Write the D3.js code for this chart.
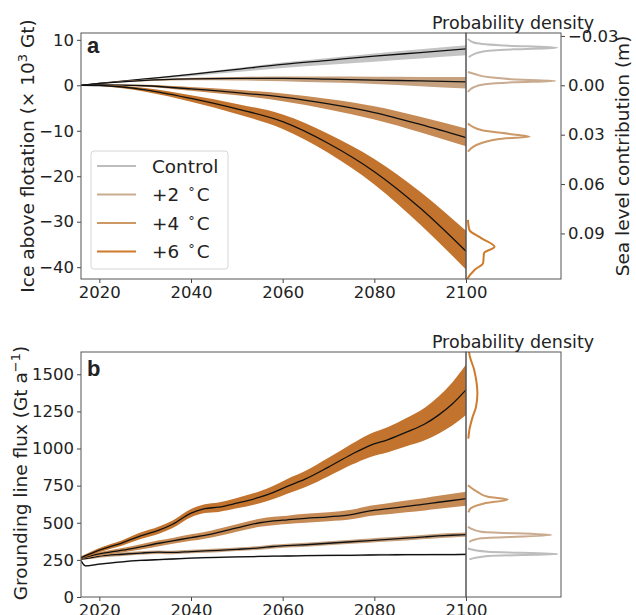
<!DOCTYPE html>
<html>
<head>
<meta charset="utf-8">
<script src="https://cdn.jsdelivr.net/npm/d3@7"></script>
<style>
body { margin: 0; background: #fff; }
text { font-family: "DejaVu Sans", sans-serif; fill: #222; }
</style>
</head>
<body>
<svg width="636" height="615"></svg>
<script>
// scenarios
var names = ['Control', '+2', '+4', '+6'];
var lineColors = ['#bdbdbd', '#c9ab90', '#cc9866', '#cf7a2c'];
var bandColors = ['#c4c4c4', '#c6a17f', '#c68a55', '#c2742e'];

// panel a : ice above flotation (10^3 Gt)
var yearsA = [2016, 2020, 2030, 2040, 2050, 2060, 2070, 2080, 2090, 2100];
var iceMed = [
  [0, 0.4, 1.4, 2.4, 3.5, 4.6, 5.5, 6.4, 7.2, 8.0],
  [0, 0.4, 1.1, 1.4, 1.5, 1.5, 1.35, 1.15, 0.95, 0.75],
  [0, 0.1, -0.1, -0.8, -1.6, -2.6, -4.1, -6.0, -8.6, -11.5],
  [0, -0.05, -1.0, -2.9, -5.2, -8.0, -12.8, -19.0, -27.0, -36.5]
];
var iceLow = [
  [0, 0.35, 1.2, 2.0, 2.9, 3.8, 4.5, 5.2, 5.9, 6.6],
  [0, 0.35, 0.9, 1.1, 1.05, 0.9, 0.6, 0.3, -0.2, -0.7],
  [0, 0.05, -0.3, -1.2, -2.2, -3.5, -5.3, -7.5, -10.3, -13.4],
  [0, -0.15, -1.4, -3.6, -6.3, -9.6, -14.9, -21.8, -30.6, -40.5]
];
var iceHigh = [
  [0, 0.45, 1.5, 2.6, 3.8, 5.0, 6.0, 7.0, 7.9, 8.8],
  [0, 0.45, 1.25, 1.65, 1.85, 1.95, 1.95, 1.9, 1.85, 1.8],
  [0, 0.15, 0.1, -0.4, -1.0, -1.8, -3.0, -4.6, -6.9, -9.5],
  [0, 0.05, -0.6, -2.2, -4.1, -6.4, -10.7, -16.2, -23.4, -32.0]
];
// density of ice in 2100: [value, relative density]
var iceDens = [
  [[10.24, 0.02], [9.4, 0.08], [8.8, 0.35], [8.27, 0.96], [7.9, 0.5], [7.45, 0.18], [6.8, 0.08], [6.2, 0.03]],
  [[2.92, 0.02], [2.41, 0.1], [1.75, 0.25], [1.2, 0.6], [0.94, 0.94], [0.66, 0.5], [0.22, 0.2], [-0.44, 0.08], [-1.47, 0.02]],
  [[-8.4, 0.02], [-9.87, 0.17], [-10.8, 0.5], [-11.34, 0.67], [-11.7, 0.4], [-12.8, 0.15], [-14.6, 0.02]],
  [[-29.6, 0.02], [-31.8, 0.035], [-33.6, 0.16], [-35.5, 0.3], [-36.9, 0.19], [-39.1, 0.18], [-40.6, 0.09], [-42.4, 0.02], [-43.5, 0.0]]
];

// panel b : grounding line flux (Gt/a)
var yearsB = [2016, 2017, 2020, 2025, 2029, 2033, 2036, 2040, 2043, 2046, 2050, 2055,
              2058, 2061, 2065, 2070, 2075, 2079, 2083, 2087, 2091, 2094, 2097, 2100];
var fluxMed = [
  [245, 210, 222, 237, 246, 252, 256, 262, 265, 267, 270, 273, 275, 276, 278, 280, 281, 283, 284, 285, 285, 286, 286, 287],
  [255, 258, 275, 288, 296, 302, 300, 306, 310, 314, 321, 331, 340, 346, 352, 362, 372, 380, 388, 396, 405, 411, 416, 420],
  [260, 268, 290, 315, 338, 362, 378, 400, 415, 435, 465, 500, 512, 520, 530, 540, 555, 580, 595, 610, 625, 638, 650, 662],
  [265, 278, 316, 365, 412, 450, 490, 565, 595, 605, 632, 672, 705, 745, 795, 875, 960, 1020, 1060, 1110, 1165, 1225, 1300, 1395]
];
var fluxSpread = [
  [4, 5, 6, 6, 6, 6, 6, 6, 6, 6, 6, 6, 6, 6, 6, 7, 7, 7, 7, 7, 7, 7, 7, 7],
  [5, 6, 10, 12, 12, 12, 12, 12, 12, 12, 12, 13, 13, 13, 13, 14, 14, 14, 14, 15, 15, 15, 15, 15],
  [5, 7, 12, 15, 18, 20, 20, 22, 22, 24, 25, 27, 28, 28, 30, 30, 32, 35, 37, 40, 42, 44, 46, 47],
  [8, 10, 14, 18, 22, 24, 26, 28, 30, 32, 35, 40, 45, 50, 55, 62, 70, 78, 85, 95, 110, 125, 145, 170]
];
var fluxDens = [
  [[327, 0.02], [305, 0.23], [289, 0.965], [276, 0.23], [253, 0.035]],
  [[473, 0.02], [439, 0.16], [417, 0.895], [395, 0.16], [372, 0.035]],
  [[753, 0.02], [708, 0.12], [675, 0.23], [657, 0.44], [630, 0.19], [597, 0.05], [570, 0.025]],
  [[1700, 0.03], [1639, 0.035], [1527, 0.087], [1370, 0.12], [1280, 0.105], [1213, 0.07], [1123, 0.035], [1067, 0.025]]
];

var svg = d3.select('svg');

var x = d3.scaleLinear().domain([2016, 2100]).range([81, 466]);
var dx = d3.scaleLinear().domain([0, 1]).range([466, 561]);
var yA = d3.scaleLinear().domain([-42.6, 11.5]).range([279, 33]);
var yB = d3.scaleLinear().domain([0, 1650]).range([597, 352]);
// sea level (m) = -ice / 362
var ySL = d3.scaleLinear().domain([42.6 / 362, -11.5 / 362]).range([279, 33]);

var fmtMinus = d => d3.format('.2f')(d).replace('-', '\u2212');

function clip(id, x0, y0, w, h) {
  svg.append('clipPath').attr('id', id)
    .append('rect').attr('x', x0).attr('y', y0).attr('width', w).attr('height', h);
}
clip('ca', 81, 33, 385, 246);
clip('cda', 466, 33, 95, 246);
clip('cb', 81, 352, 385, 245);
clip('cdb', 466, 352, 95, 245);

function styleAxis(g, size) {
  g.select('.domain').remove();
  g.selectAll('line').attr('stroke', '#444');
  g.selectAll('text').style('font-size', size + 'px').attr('fill', '#222');
}

function drawPanel(y, years, med, low, high, dens, clipMain, clipDens) {
  var main = svg.append('g').attr('clip-path', 'url(#' + clipMain + ')');
  med.forEach(function (m, i) {
    var pts = years.map((yr, j) => ({ yr: yr, m: m[j], lo: low[i][j], hi: high[i][j] }));
    main.append('path').datum(pts)
      .attr('fill', bandColors[i])
      .attr('d', d3.area().x(d => x(d.yr)).y0(d => y(d.lo)).y1(d => y(d.hi)).curve(d3.curveMonotoneX));
    main.append('path').datum(pts)
      .attr('fill', 'none').attr('stroke', '#111').attr('stroke-width', 1.3)
      .attr('d', d3.line().x(d => x(d.yr)).y(d => y(d.m)).curve(d3.curveMonotoneX));
  });
  var dg = svg.append('g').attr('clip-path', 'url(#' + clipDens + ')');
  dens.forEach(function (dd, i) {
    var pts = dd.slice().sort((a, b) => b[0] - a[0]);
    dg.append('path').datum(pts)
      .attr('fill', 'none').attr('stroke', lineColors[i]).attr('stroke-width', 2)
      .attr('d', d3.line().x(d => dx(d[1])).y(d => y(d[0])).curve(d3.curveMonotoneY));
  });
}

// panel a
drawPanel(yA, yearsA, iceMed, iceLow, iceHigh, iceDens, 'ca', 'cda');

// panel b
var fluxLow = fluxMed.map((m, i) => m.map((v, j) => v - fluxSpread[i][j]));
var fluxHigh = fluxMed.map((m, i) => m.map((v, j) => v + fluxSpread[i][j]));
drawPanel(yB, yearsB, fluxMed, fluxLow, fluxHigh, fluxDens, 'cb', 'cdb');

// axes panel a
svg.append('g').attr('transform', 'translate(0,279)')
  .call(d3.axisBottom(x).tickValues([2020, 2040, 2060, 2080, 2100]).tickFormat(d3.format('d')).tickSize(4).tickPadding(3))
  .call(g => styleAxis(g, 16.5));
svg.append('g').attr('transform', 'translate(81,0)')
  .call(d3.axisLeft(yA).tickValues([10, 0, -10, -20, -30, -40]).tickFormat(d => String(d).replace('-', '\u2212')).tickSize(4).tickPadding(3))
  .call(g => styleAxis(g, 16.5));
svg.append('g').attr('transform', 'translate(561,0)')
  .call(d3.axisRight(ySL).tickValues([-0.03, 0, 0.03, 0.06, 0.09]).tickFormat(fmtMinus).tickSize(4).tickPadding(3))
  .call(g => styleAxis(g, 16.5));

// axes panel b
svg.append('g').attr('transform', 'translate(0,597)')
  .call(d3.axisBottom(x).tickValues([2020, 2040, 2060, 2080, 2100]).tickFormat(d3.format('d')).tickSize(4).tickPadding(3))
  .call(g => styleAxis(g, 16.5));
svg.append('g').attr('transform', 'translate(81,0)')
  .call(d3.axisLeft(yB).tickValues([0, 250, 500, 750, 1000, 1250, 1500]).tickFormat(d3.format('d')).tickSize(4).tickPadding(3))
  .call(g => styleAxis(g, 16.5));

// frames
[[33, 279], [352, 597]].forEach(function (r) {
  svg.append('rect').attr('x', 81).attr('y', r[0]).attr('width', 385).attr('height', r[1] - r[0])
    .attr('fill', 'none').attr('stroke', '#555').attr('stroke-width', 1);
  svg.append('rect').attr('x', 466).attr('y', r[0]).attr('width', 95).attr('height', r[1] - r[0])
    .attr('fill', 'none').attr('stroke', '#555').attr('stroke-width', 1);
});

// titles and labels
svg.append('text').attr('x', 513).attr('y', 29).attr('text-anchor', 'middle')
  .style('font-size', '17.5px').text('Probability density');
svg.append('text').attr('x', 513).attr('y', 348).attr('text-anchor', 'middle')
  .style('font-size', '17.5px').text('Probability density');

var la = svg.append('text').attr('transform', 'translate(34,156) rotate(-90)').attr('text-anchor', 'middle')
  .style('font-size', '18.5px');
la.append('tspan').text('Ice above flotation (\u00d7 10');
la.append('tspan').attr('dy', -7).style('font-size', '13px').text('3');
la.append('tspan').attr('dy', 7).text(' Gt)');

svg.append('text').attr('transform', 'translate(629,156) rotate(-90)').attr('text-anchor', 'middle')
  .style('font-size', '18.5px').text('Sea level contribution (m)');

var lb = svg.append('text').attr('transform', 'translate(27,473) rotate(-90)').attr('text-anchor', 'middle')
  .style('font-size', '18.5px');
lb.append('tspan').text('Grounding line flux (Gt a');
lb.append('tspan').attr('dy', -7).style('font-size', '13px').text('\u22121');
lb.append('tspan').attr('dy', 7).text(')');

svg.append('text').attr('x', 87).attr('y', 53).style('font-family', '"Liberation Sans", Arial, sans-serif')
  .style('font-weight', 'bold').style('font-size', '22px').text('a');
svg.append('text').attr('x', 87).attr('y', 376).style('font-family', '"Liberation Sans", Arial, sans-serif')
  .style('font-weight', 'bold').style('font-size', '22px').text('b');

// legend
var leg = svg.append('g');
leg.append('rect').attr('x', 91).attr('y', 151).attr('width', 137).attr('height', 118).attr('rx', 3)
  .attr('fill', '#fff').attr('fill-opacity', 0.85).attr('stroke', '#d6d6d6');
names.forEach(function (n, i) {
  var ly = 166 + i * 28.5;
  leg.append('line').attr('x1', 97).attr('x2', 136).attr('y1', ly).attr('y2', ly)
    .attr('stroke', lineColors[i]).attr('stroke-width', 2);
  var t = leg.append('text').attr('x', 152).attr('y', ly + 6.5).style('font-size', '18.4px');
  if (i === 0) {
    t.text(n);
  } else {
    t.append('tspan').text(n);
    t.append('tspan').attr('dx', 9).attr('dy', -5).style('font-size', '13px').text('\u00b0');
    t.append('tspan').attr('dx', 2).attr('dy', 5).text('C');
  }
});
</script>
</body>
</html>
